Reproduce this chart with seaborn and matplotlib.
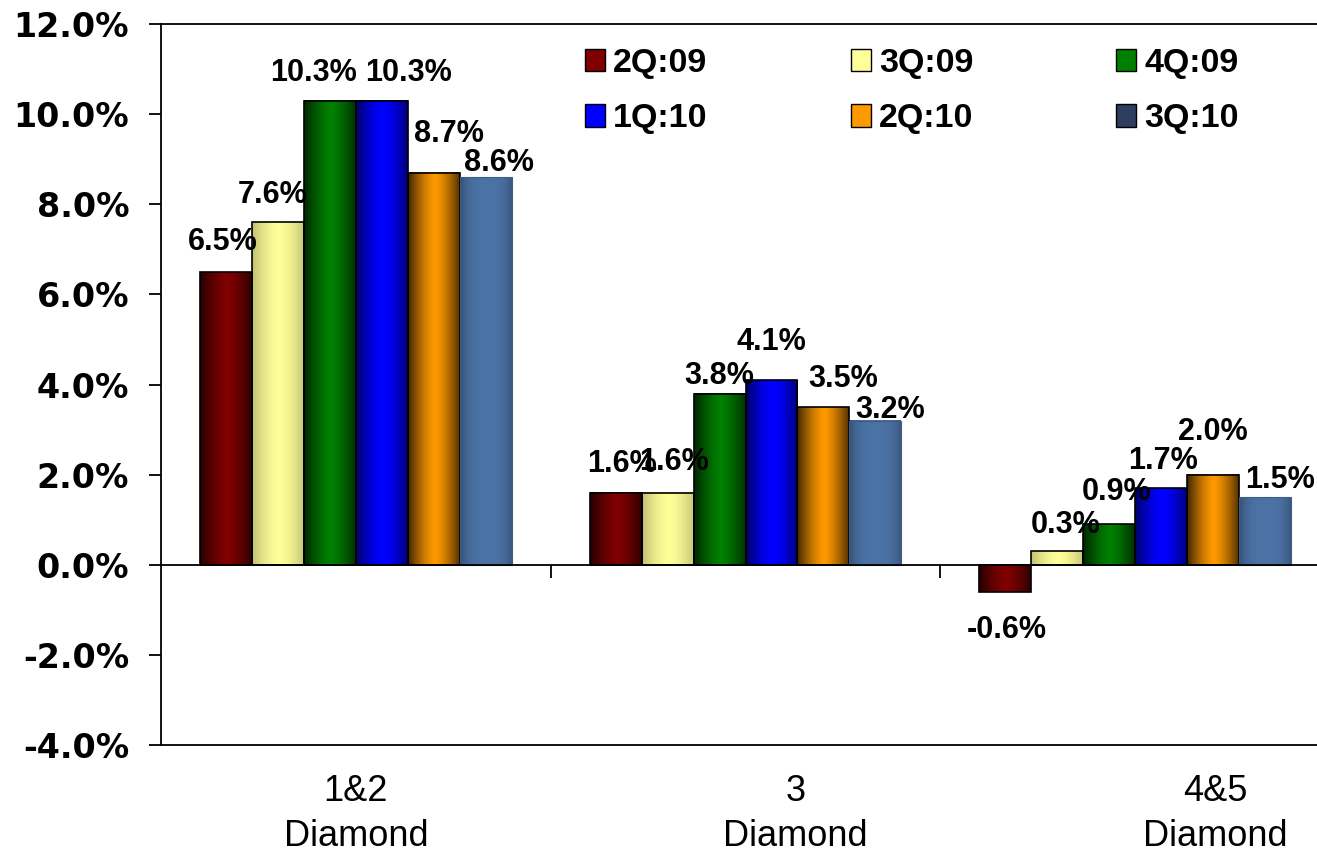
import numpy as np
import pandas as pd
import matplotlib
matplotlib.use("Agg")
import matplotlib.pyplot as plt
import matplotlib.colors as mcolors
from matplotlib.patches import Patch
import seaborn as sns

categories = ["1&2\nDiamond", "3\nDiamond", "4&5\nDiamond"]
quarters = ["2Q:09", "3Q:09", "4Q:09", "1Q:10", "2Q:10", "3Q:10"]
v_2q09 = [6.5, 1.6, -0.6]
v_3q09 = [7.6, 1.6, 0.3]
v_4q09 = [10.3, 3.8, 0.9]
v_1q10 = [10.3, 4.1, 1.7]
v_2q10 = [8.7, 3.5, 2.0]
v_3q10 = [8.6, 3.2, 1.5]
series = [v_2q09, v_3q09, v_4q09, v_1q10, v_2q10, v_3q10]
y_ticks = [-4, -2, 0, 2, 4, 6, 8, 10, 12]

colors = ["#800000", "#FFFF99", "#008000", "#0000FF", "#FF9900", "#4C73A6"]
legend_colors = ["#800000", "#FFFF99", "#008000", "#0000FF", "#FF9900", "#2C3D5E"]

rows = []
for q, vals in zip(quarters, series):
    for c, v in zip(categories, vals):
        rows.append({"category": c, "quarter": q, "value": v})
df = pd.DataFrame(rows)

sns.set_style("white")
plt.rcParams["font.family"] = ["Liberation Sans", "DejaVu Sans"]
plt.rcParams["text.color"] = "black"
plt.rcParams["xtick.color"] = "black"
plt.rcParams["ytick.color"] = "black"
plt.rcParams["xtick.labelcolor"] = "black"
plt.rcParams["ytick.labelcolor"] = "black"

W, H = 1317, 855
fig = plt.figure(figsize=(W / 100, H / 100), dpi=100)
ax_left, ax_right, ax_top, ax_bot = 161, 1330, 24, 745
ax = fig.add_axes([ax_left / W, 1 - ax_bot / H, (ax_right - ax_left) / W, (ax_bot - ax_top) / H])

sns.barplot(data=df, x="category", y="value", hue="quarter", order=categories,
            hue_order=quarters, palette=colors, width=0.8, edgecolor="black",
            linewidth=1.2, legend=False, ax=ax, saturation=1)

# gradient shading on bars (dark edges, bright centre)
shade_amount = [0.7, 0.25, 0.7, 0.6, 0.75, 0.3]
shade_power = [1.4, 1.6, 1.4, 1.6, 1.4, 3.0]
t = np.linspace(0, 1, 96)
for k, cont in enumerate(ax.containers):
    base = np.array(mcolors.to_rgb(colors[k]))
    d = np.abs((t - 0.52) / 0.52)
    f = 1 - shade_amount[k] * np.clip(d, 0, 1) ** shade_power[k]
    grad = (base[None, :] * f[:, None])[None, :, :]
    for p in cont.patches:
        x, y = p.get_x(), p.get_y()
        w, h = p.get_width(), p.get_height()
        ax.imshow(grad, extent=[x, x + w, y, y + h], aspect="auto",
                  zorder=1.9, interpolation="bilinear")
        p.set_facecolor("none")
        p.set_zorder(2)
        if k == 5:
            p.set_edgecolor("#3E5C86")
            p.set_linewidth(0.8)

# value labels with individual offsets (pixels)
dx_px = [[-3, 6, 1], [-5, 6, 8], [-16, 0, 7], [27, 0, 2], [15, 20, 0], [13, 15, 15]]
dy_px = [[2, 1, 10], [-1, 3, -2], [0, -10, 4], [0, 10, -1], [11, 0, 15], [-14, -17, -11]]
for k, cont in enumerate(ax.containers):
    for j, p in enumerate(cont.patches):
        v = series[k][j]
        xc = p.get_x() + p.get_width() / 2
        top = p.get_y() + p.get_height()
        sign = 1 if v >= 0 else -1
        off_y = sign * (28 + dy_px[k][j])
        ax.annotate(f"{v:.1f}%", xy=(xc, top), xytext=(dx_px[k][j] * 0.72, off_y * 0.72),
                    textcoords="offset points", ha="center", va="center",
                    fontsize=22, fontweight="bold", color="black", zorder=5)

ax.set_xlim(-0.5, 2.5)
ax.set_ylim(y_ticks[0], y_ticks[-1])
ax.set_yticks(y_ticks)
ax.set_yticklabels([f"{v:.1f}%" for v in y_ticks], fontsize=24, fontweight="bold",
                   family="DejaVu Sans", color="black")
ax.tick_params(axis="y", direction="out", length=9, width=1.3, pad=14, left=True,
               color="black", labelcolor="black")
ax.set_xlabel("")
ax.set_ylabel("")

for s in ["left", "top", "bottom"]:
    ax.spines[s].set_visible(True)
    ax.spines[s].set_color("black")
    ax.spines[s].set_linewidth(1.3)
ax.spines["right"].set_visible(False)
ax.spines["bottom"].set_position(("data", 0))
ax.set_xticks([0.5, 1.5])
ax.set_xticklabels(["", ""])
ax.tick_params(axis="x", direction="out", length=9, width=1.3, bottom=True, color="black")

label_pos = [0.0, 1.128, 2.205]
sec = ax.secondary_xaxis("bottom")
sec.spines["bottom"].set_linewidth(1.3)
sec.spines["bottom"].set_color("black")
sec.set_xticks(label_pos)
sec.set_xticklabels(categories, fontsize=26, linespacing=1.35, color="black")
sec.tick_params(axis="x", length=0, pad=21, labelcolor="black")

handles = [Patch(facecolor=c, edgecolor="black", linewidth=1.0) for c in legend_colors]
order = [0, 3, 1, 4, 2, 5]
leg = ax.legend([handles[i] for i in order], [quarters[i] for i in order], ncol=3,
                frameon=False, loc="upper left", bbox_to_anchor=(585 / W, 1 - 48 / H),
                bbox_transform=fig.transFigure, borderaxespad=0, borderpad=0,
                handlelength=0.59, handleheight=0.65, handletextpad=0.24,
                columnspacing=4.2, labelspacing=0.72,
                prop={"family": "Liberation Sans", "weight": "bold", "size": 24.5})
for txt in leg.get_texts():
    txt.set_color("black")

fig.savefig("out.png", dpi=100)
